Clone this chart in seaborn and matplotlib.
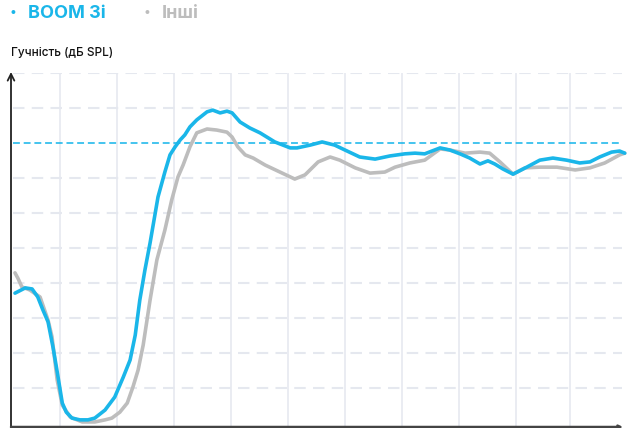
import pandas as pd
import matplotlib
matplotlib.use("Agg")
import matplotlib.pyplot as plt
import seaborn as sns

# series (arbitrary band / level units)
boom_x = [0.21, 0.39, 0.51, 0.61, 0.70, 0.79, 0.88, 0.96, 1.04, 1.11, 1.21, 1.35, 1.49, 1.61, 1.79,
          1.96, 2.11, 2.23, 2.32, 2.40, 2.49, 2.58, 2.72, 2.84, 2.93, 3.02, 3.11, 3.19, 3.28, 3.40,
          3.58, 3.68, 3.81, 3.93, 4.02, 4.16, 4.33, 4.51, 4.77, 5.04, 5.16, 5.39, 5.60, 5.82, 6.00,
          6.26, 6.53, 6.79, 7.05, 7.23, 7.40, 7.67, 7.84, 8.02, 8.19, 8.37, 8.51, 8.63, 8.77, 8.95,
          9.19, 9.42, 9.65, 9.89, 10.12, 10.30, 10.47, 10.68, 10.82, 10.91]
boom_y = [3.71, 3.86, 3.83, 3.60, 3.23, 2.89, 2.14, 1.37, 0.57, 0.31, 0.14, 0.09, 0.09, 0.14, 0.37,
          0.74, 1.31, 1.80, 2.51, 3.51, 4.37, 5.14, 6.46, 7.17, 7.66, 7.89, 8.09, 8.23, 8.46, 8.66,
          8.89, 8.94, 8.86, 8.91, 8.86, 8.60, 8.43, 8.29, 8.03, 7.86, 7.86, 7.94, 8.03, 7.94, 7.80,
          7.60, 7.54, 7.63, 7.69, 7.71, 7.69, 7.86, 7.80, 7.69, 7.57, 7.40, 7.49, 7.40, 7.26, 7.11,
          7.31, 7.51, 7.57, 7.51, 7.43, 7.46, 7.60, 7.74, 7.77, 7.71]

other_x = [0.21, 0.26, 0.33, 0.47, 0.65, 0.79, 0.86, 0.95, 1.04, 1.18, 1.39, 1.61, 1.79, 1.91, 2.05,
           2.18, 2.28, 2.37, 2.46, 2.58, 2.70, 2.84, 2.96, 3.07, 3.16, 3.28, 3.40, 3.58, 3.75, 3.93,
           4.02, 4.12, 4.25, 4.39, 4.60, 4.86, 5.12, 5.30, 5.53, 5.74, 5.91, 6.18, 6.44, 6.70, 6.88,
           7.14, 7.40, 7.67, 7.84, 8.11, 8.37, 8.54, 8.72, 8.95, 9.16, 9.42, 9.72, 10.04, 10.30, 10.56,
           10.82, 10.91]
other_y = [4.29, 4.14, 3.89, 3.80, 3.60, 2.94, 2.46, 1.23, 0.51, 0.17, 0.03, 0.03, 0.09, 0.14, 0.31,
           0.57, 1.03, 1.51, 2.23, 3.51, 4.66, 5.51, 6.37, 7.03, 7.37, 7.89, 8.29, 8.40, 8.37, 8.31,
           8.17, 7.89, 7.66, 7.57, 7.37, 7.17, 6.97, 7.09, 7.46, 7.60, 7.51, 7.29, 7.14, 7.17, 7.31,
           7.43, 7.51, 7.83, 7.80, 7.71, 7.74, 7.71, 7.46, 7.11, 7.29, 7.31, 7.31, 7.23, 7.29, 7.43,
           7.66, 7.71]

series_names = ["BOOM 3i", "Інші"]
series_colors = ["#1ab6e9", "#bdbdbd"]
reference_level = 8
grid_levels = [1, 2, 3, 4, 5, 6, 7, 9, 10]
band_lines = [1, 2, 3, 4, 5, 6, 7, 8, 9, 9.95]
y_label = "Гучність (дБ SPL)"


def main():
    df = pd.concat([
        pd.DataFrame({"x": boom_x, "y": boom_y, "series": series_names[0]}),
        pd.DataFrame({"x": other_x, "y": other_y, "series": series_names[1]}),
    ])

    sns.set_style("white")
    plt.rcParams["font.family"] = ["Inter", "DejaVu Sans"]

    fig = plt.figure(figsize=(6.27, 4.28), dpi=100)
    ax = fig.add_axes([11 / 627, 1 / 428, 616 / 627, 354 / 428])
    ax.set_xlim(0.14, 10.95)
    ax.set_ylim(-0.114, 10.0)

    # grid
    for bx in band_lines:
        ax.axvline(bx, color="#e8ebf1", lw=1.3, zorder=0)
    ax.hlines(grid_levels, 0.175, 10.86, color="#e5e8ef", lw=1.5,
              linestyles=(0, (5.5, 3.5)), zorder=0)
    ax.hlines(reference_level, 0.175, 10.86, color="#12b4ea", lw=1.1,
              linestyles=(0, (4.5, 2.5)), zorder=1)

    # draw others first so BOOM sits on top
    sns.lineplot(data=df, x="x", y="y", hue="series", hue_order=series_names[::-1],
                 palette=dict(zip(series_names, series_colors)), sort=False,
                 lw=2.6, legend=False, ax=ax, zorder=3)
    for line in ax.get_lines():
        line.set_solid_joinstyle("round")
        line.set_solid_capstyle("round")

    for s in ax.spines.values():
        s.set_visible(False)
    ax.set_xticks([])
    ax.set_yticks([])
    ax.set_xlabel("")
    ax.set_ylabel("")

    # axis arrows
    ax.annotate("", xy=(0.14, 10.03), xytext=(0.14, -0.114),
                arrowprops=dict(arrowstyle="->", color="#222222", lw=1.3,
                                mutation_scale=12, shrinkA=0, shrinkB=0),
                annotation_clip=False)
    ax.annotate("", xy=(10.88, -0.114), xytext=(0.14, -0.114),
                arrowprops=dict(arrowstyle="->", color="#444444", lw=1.8,
                                mutation_scale=5, shrinkA=0, shrinkB=0),
                annotation_clip=False)

    # legend and label as text
    fig.text(13 / 627, 1 - 13 / 428, "•", color=series_colors[0], fontsize=9,
             ha="center", va="center")
    fig.text(28 / 627, 1 - 14 / 428, series_names[0], color=series_colors[0], fontsize=13,
             fontweight="bold", ha="left", va="center")
    fig.text(147 / 627, 1 - 13 / 428, "•", color=series_colors[1], fontsize=9,
             ha="center", va="center")
    fig.text(162 / 627, 1 - 14 / 428, series_names[1], color=series_colors[1], fontsize=13,
             fontweight="bold", ha="left", va="center")
    fig.text(11 / 627, 1 - 53 / 428, y_label, color="#111111", fontsize=8.5,
             fontweight="medium", ha="left", va="center")

    fig.savefig("out.png", dpi=100)
    plt.close(fig)


if __name__ == "__main__":
    main()
